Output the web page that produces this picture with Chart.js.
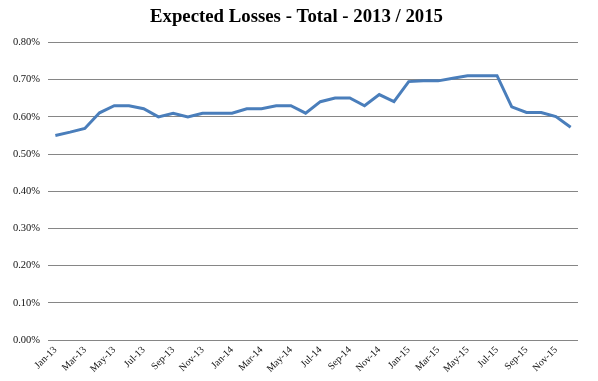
<!DOCTYPE html>
<html><head><meta charset="utf-8">
<script src="https://cdn.jsdelivr.net/npm/chart.js@4"></script>
<style>html,body{margin:0;padding:0;background:#fff}#wrap{width:598px;height:381px}</style>
</head><body><div id="wrap"><canvas id="c"></canvas></div>
<script>
const months = ["Jan-13","Feb-13","Mar-13","Apr-13","May-13","Jun-13","Jul-13","Aug-13","Sep-13","Oct-13","Nov-13","Dec-13",
"Jan-14","Feb-14","Mar-14","Apr-14","May-14","Jun-14","Jul-14","Aug-14","Sep-14","Oct-14","Nov-14","Dec-14",
"Jan-15","Feb-15","Mar-15","Apr-15","May-15","Jun-15","Jul-15","Aug-15","Sep-15","Oct-15","Nov-15","Dec-15"];
const expectedLosses = [0.550,0.559,0.569,0.611,0.630,0.630,0.622,0.600,0.610,0.600,0.610,0.610,
0.610,0.622,0.622,0.630,0.630,0.610,0.641,0.651,0.651,0.630,0.660,0.641,
0.695,0.697,0.697,0.704,0.711,0.711,0.711,0.627,0.612,0.612,0.601,0.572];
const yTicks = [0,0.1,0.2,0.3,0.4,0.5,0.6,0.7,0.8];
const titleText = "Expected Losses - Total - 2013 / 2015";

const serif = "'Liberation Serif','Times New Roman',serif";
const shiftTitle = {
  id: 'shiftTitle',
  afterLayout(chart) { if (chart.titleBlock) { chart.titleBlock.left = 15; chart.titleBlock.right = 578; } }
};
new Chart(document.getElementById('c'), {
  type: 'line',
  data: { labels: months, datasets: [{
    data: expectedLosses, borderColor: '#4a7ebb', borderWidth: 3, pointRadius: 0, tension: 0, fill: false
  }]},
  plugins: [shiftTitle],
  options: {
    responsive: true, maintainAspectRatio: false, animation: false,
    layout: { padding: { left: 0, right: 20, top: 0, bottom: 0 } },
    plugins: {
      legend: { display: false }, tooltip: { enabled: false },
      title: { display: true, text: titleText, color: '#000',
        font: { family: serif, size: 18.8, weight: 'bold' }, padding: { top: 6, bottom: 14 } }
    },
    scales: {
      x: {
        offset: true,
        grid: { display: false, drawTicks: false },
        border: { display: false },
        ticks: { autoSkip: false, maxRotation: 45, minRotation: 45, color: '#111', padding: 4,
          font: { family: serif, size: 10 },
          callback: function(v, i) { return i % 2 === 0 ? months[i] : ''; } },
        afterFit: function(s) { s.height = 41; }
      },
      y: {
        min: 0, max: 0.8,
        afterBuildTicks: function(s) { s.ticks = yTicks.map(v => ({ value: v })); },
        grid: { color: '#868686', lineWidth: 1, drawTicks: false },
        border: { display: false },
        ticks: { color: '#111', padding: 8, font: { family: serif, size: 10.5 },
          callback: v => v.toFixed(2) + '%' },
        afterFit: function(s) { s.width = 48; }
      }
    }
  }
});
</script></body></html>
